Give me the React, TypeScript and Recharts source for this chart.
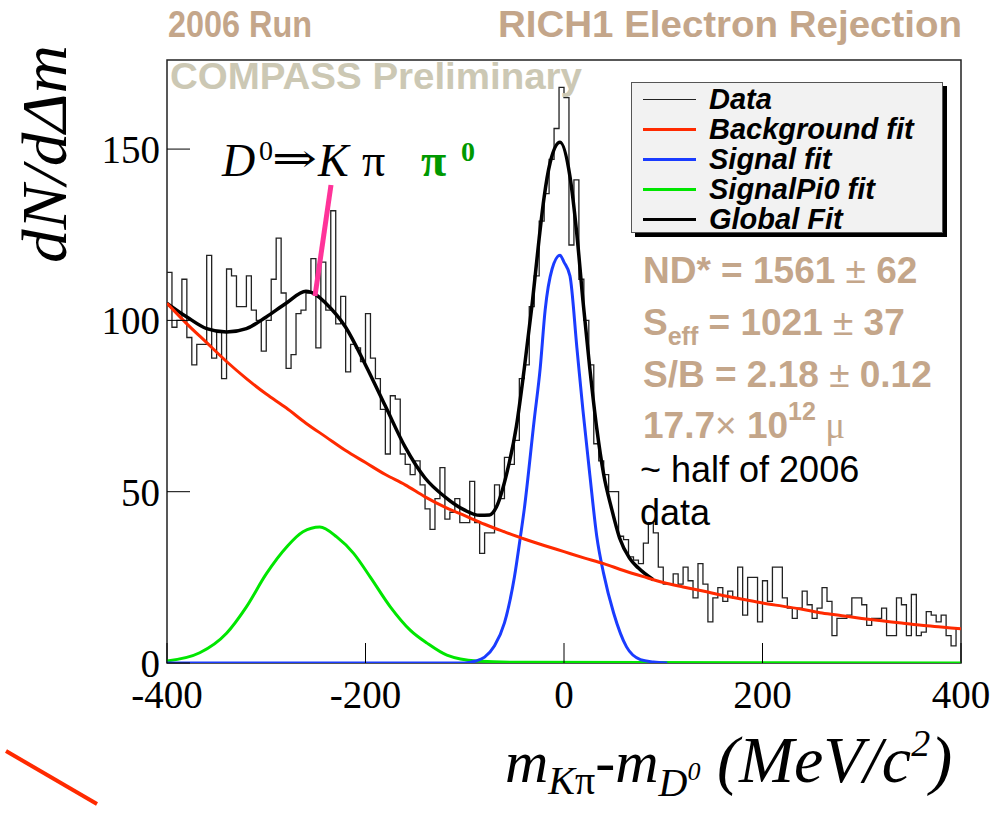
import { ComposedChart, Line, XAxis, YAxis, ReferenceArea } from "recharts";

// Histogram: 5 MeV bins from -400 to +400, counts
const BIN_START = -400;
const BIN_WIDTH = 5;
const COUNTS = [
  114, 98, 100, 112, 95, 87, 93, 93, 119, 89,
  97, 83, 115, 113, 104, 104, 113, 103, 100, 91,
  100, 112, 124, 108, 86, 90, 102, 103, 108, 118,
  92, 117, 103, 132, 99, 107, 85, 93, 92, 88,
  102, 89, 83, 74, 61, 78, 77, 61, 58, 55,
  59, 52, 45, 39, 48, 57, 42, 44, 48, 41,
  41, 53, 41, 32, 38, 38, 52, 48, 60, 58,
  65, 83, 87, 104, 113, 129, 137, 147, 156, 168,
  165, 122, 141, 112, 100, 87, 64, 59, 55, 50,
  50, 37, 36, 31, 30, 29, 35, 41, 38, 28,
  23, 23, 26, 23, 28, 24, 19, 29, 23, 12,
  19, 22, 18, 21, 19, 28, 14, 25, 25, 12,
  24, 18, 28, 28, 19, 16, 13, 16, 21, 17,
  13, 16, 22, 18, 8, 13, 13, 14, 19, 19,
  17, 11, 13, 13, 16, 8, 8, 19, 17, 8,
  20, 8, 9, 15, 14, 12, 14, 8, 5, 10,
];

// Background fit (red)
const BKG_X = [
  -400, -380, -360, -340, -320, -300, -280, -260, -240, -220, -200, -180, -160, -140,
  -120, -100, -80, -60, -40, -20, 0, 20, 40, 60, 80, 100, 120, 140, 160, 180, 200,
  220, 240, 260, 280, 300, 320, 340, 360, 380, 400,
];
const BKG_Y = [
  105, 99, 93.5, 88, 83, 78.5, 74.5, 70, 66, 62, 58.5, 55, 52, 48.5,
  45.5, 43, 40.5, 38.3, 36.2, 34.3, 32.5, 30.7, 29, 27, 25.2, 23.5, 22.2, 21, 19.7, 18.6, 17.5,
  16.6, 15.7, 14.6, 13.8, 13, 12.3, 11.7, 11, 10.5, 10,
];

// Signal fit (blue)
const SIG_X = [-400, -100, -90, -80, -70, -60, -50, -44, -40, -30, -24, -19, -12, -4, 0, 6, 13, 19, 26, 33, 40, 50, 63, 77, 90, 104];
const SIG_Y = [0, 0, 0.5, 1.7, 5, 11.7, 25, 36.7, 45, 71, 86, 103, 115, 119, 117, 113, 92, 74, 55, 37, 26, 14.6, 4.7, 1, 0.3, 0];

// SignalPi0 fit (green)
const PI0_X = [-400, -367, -340, -320, -300, -279, -263, -246, -229, -212, -195, -175, -155, -138, -118, -88, -40, 400];
const PI0_Y = [0.6, 3, 8.7, 16.4, 26, 34, 38.3, 39.7, 36.8, 32, 25, 16.4, 9.6, 5.8, 2.3, 0.6, 0.2, 0];

// Global fit (black)
const GLOBAL_X = [
  -400, -380, -360, -340, -320, -300, -280, -260, -250, -240, -220, -200, -180, -160, -140,
  -120, -100, -85, -75, -68, -58, -48, -40, -32, -25, -20, -14, -4, 6, 13, 19, 26, 33,
  40, 48, 56, 66, 75, 90,
];
const GLOBAL_Y = [
  105, 101, 97.6, 96.6, 97.6, 101, 105, 108.5, 107.5, 105, 98, 87, 75, 63, 54,
  48.5, 44.6, 43.1, 43.2, 45.6, 55, 69, 86, 105, 124, 136, 146, 152, 142, 125, 106, 86, 68.5,
  55, 45, 36.5, 30.6, 27.7, 24.3,
];

const X_TICKS = [-400, -200, 0, 200, 400];
const Y_TICKS = [0, 50, 100, 150];

const LEGEND_ITEMS = [
  { label: "Data", color: "#222", width: 1 },
  { label: "Background fit", color: "#ff2a00", width: 3 },
  { label: "Signal fit", color: "#1a3cff", width: 3 },
  { label: "SignalPi0 fit", color: "#00e600", width: 3 },
  { label: "Global Fit", color: "#000", width: 3 },
];

const TAN = "#c4a68a";
const SERIF = "'Liberation Serif', 'DejaVu Serif', serif";
const SANS = "'Liberation Sans', Arial, sans-serif";

const toPoints = (xs: number[], ys: number[]) => xs.map((x, i) => ({ x, y: ys[i] }));

const histData = [
  ...COUNTS.map((c, i) => ({ x: BIN_START + i * BIN_WIDTH, y: c })),
  { x: BIN_START + COUNTS.length * BIN_WIDTH, y: COUNTS[COUNTS.length - 1] },
];

export default function App() {
  const tickStyle = { fill: "#000", fontSize: 39, fontFamily: SERIF };
  return (
    <div style={{ position: "absolute", left: 0, top: 0, width: 1001, height: 814, background: "#fff" }}>
      <ComposedChart
        width={1001}
        height={814}
        margin={{ top: 60, right: 40, bottom: 111, left: 107 }}
      >
        <XAxis
          dataKey="x"
          type="number"
          domain={[-400, 400]}
          ticks={X_TICKS}
          allowDataOverflow
          height={40}
          axisLine={false}
          tickSize={-20}
          tickMargin={37}
          tickLine={{ stroke: "#000" }}
          tick={tickStyle}
        />
        <YAxis
          type="number"
          domain={[0, 176]}
          ticks={Y_TICKS}
          allowDataOverflow
          width={60}
          axisLine={false}
          tickSize={-23}
          tickMargin={30}
          tickLine={{ stroke: "#000" }}
          tick={tickStyle}
        />
        <Line data={histData} dataKey="y" type="stepAfter" stroke="#222" strokeWidth={1.3} dot={false} isAnimationActive={false} />
        <Line data={toPoints(GLOBAL_X, GLOBAL_Y)} dataKey="y" type="monotone" stroke="#000" strokeWidth={3.5} dot={false} isAnimationActive={false} />
        <Line data={toPoints(PI0_X, PI0_Y)} dataKey="y" type="monotone" stroke="#00e600" strokeWidth={3} dot={false} isAnimationActive={false} />
        <Line data={toPoints(SIG_X, SIG_Y)} dataKey="y" type="monotone" stroke="#1a3cff" strokeWidth={3} dot={false} isAnimationActive={false} />
        <Line data={toPoints(BKG_X, BKG_Y)} dataKey="y" type="monotone" stroke="#ff2a00" strokeWidth={3} dot={false} isAnimationActive={false} />
        <ReferenceArea x1={-400} x2={400} y1={0} y2={176} fill="none" stroke="#222" strokeWidth={1.5} />
      </ComposedChart>

      <svg width={1001} height={814} style={{ position: "absolute", left: 0, top: 0, pointerEvents: "none" }}>
        <text x={168} y={37} fontFamily={SANS} fontWeight="bold" fontSize={36} fill={TAN} textLength={144} lengthAdjust="spacingAndGlyphs">2006 Run</text>
        <text x={498} y={37} fontFamily={SANS} fontWeight="bold" fontSize={36} fill={TAN} textLength={464} lengthAdjust="spacingAndGlyphs">RICH1 Electron Rejection</text>
        <text x={170} y={89} fontFamily={SANS} fontWeight="bold" fontSize={36} fill="#ccc8b4" textLength={412} lengthAdjust="spacingAndGlyphs">COMPASS Preliminary</text>

        <text transform="translate(66,263) rotate(-90)" fontFamily={SERIF} fontStyle="italic" fontSize={64} fill="#000" textLength={218} lengthAdjust="spacingAndGlyphs">dN/dΔm</text>

        <text x={505} y={782} fontFamily={SERIF} fontStyle="italic" fontSize={60} fill="#000">
          m<tspan fontSize={40} dy={12}>K</tspan>
          <tspan fontSize={40} fontStyle="normal">π</tspan>
          <tspan fontSize={60} dy={-12}>-m</tspan>
          <tspan fontSize={40} dy={14}>D</tspan>
          <tspan fontSize={26} dy={-16}>0</tspan>
          <tspan fontSize={66} dy={2}> (MeV/c</tspan>
          <tspan fontSize={38} dy={-26}>2</tspan>
          <tspan fontSize={66} dy={26}>)</tspan>
        </text>

        <text x={222} y={176} fontFamily={SERIF} fontStyle="italic" fontSize={46} fill="#000">D</text>
        <text x={259} y={160} fontFamily={SERIF} fontSize={28} fill="#000">0</text>
        <text x={272} y={172} fontFamily={SERIF} fontSize={40} fill="#000" textLength={45} lengthAdjust="spacingAndGlyphs">⇒</text>
        <text x={318} y={176} fontFamily={SERIF} fontStyle="italic" fontSize={46} fill="#000">K</text>
        <text x={362} y={176} fontFamily={SERIF} fontSize={46} fill="#000">π</text>
        <text x={421} y={176} fontFamily={SERIF} fontWeight="bold" fontSize={46} fill="#009900">π</text>
        <text x={461} y={161} fontFamily={SERIF} fontWeight="bold" fontSize={28} fill="#009900">0</text>
        <line x1={315} y1={296} x2={331} y2={185} stroke="#ff3399" strokeWidth={5} />

        <text x={643} y={283} fontFamily={SANS} fontWeight="bold" fontSize={37} fill={TAN}>
          ND* = 1561<tspan fontWeight="normal"> ± </tspan>62
        </text>
        <text x={643} y={335} fontFamily={SANS} fontWeight="bold" fontSize={37} fill={TAN}>
          S<tspan fontSize={25} dy={10}>eff</tspan><tspan dy={-10}> = 1021</tspan><tspan fontWeight="normal"> ± </tspan>37
        </text>
        <text x={643} y={387} fontFamily={SANS} fontWeight="bold" fontSize={37} fill={TAN}>
          S/B = 2.18<tspan fontWeight="normal"> ± </tspan>0.12
        </text>
        <text x={643} y={438} fontFamily={SANS} fontWeight="bold" fontSize={37} fill={TAN}>
          17.7<tspan fontWeight="normal">× </tspan>10<tspan fontSize={25} dy={-18}>12</tspan>
          <tspan fontWeight="normal" fontFamily={SERIF} dy={18}> μ</tspan>
        </text>
        <text x={640} y={482} fontFamily={SANS} fontSize={36} fill="#000">~ half of 2006</text>
        <text x={640} y={525} fontFamily={SANS} fontSize={36} fill="#000">data</text>

        <line x1={6} y1={751} x2={97} y2={804} stroke="#ff2a00" strokeWidth={4} />
      </svg>

      <div
        style={{
          position: "absolute",
          left: 631,
          top: 82,
          width: 310,
          height: 149,
          background: "#f2f2f2",
          border: "1px solid #555",
          boxShadow: "4px 4px 0 #000",
        }}
      >
        {LEGEND_ITEMS.map((item, i) => (
          <div key={item.label} style={{ position: "absolute", left: 11, top: 1 + i * 30, height: 30, display: "flex", alignItems: "center" }}>
            <span style={{ display: "inline-block", width: 53, height: item.width, background: item.color }} />
            <span
              style={{
                marginLeft: 13,
                fontFamily: SANS,
                fontWeight: "bold",
                fontStyle: "italic",
                fontSize: 29,
                lineHeight: "30px",
                color: "#000",
              }}
            >
              {item.label}
            </span>
          </div>
        ))}
      </div>
    </div>
  );
}
